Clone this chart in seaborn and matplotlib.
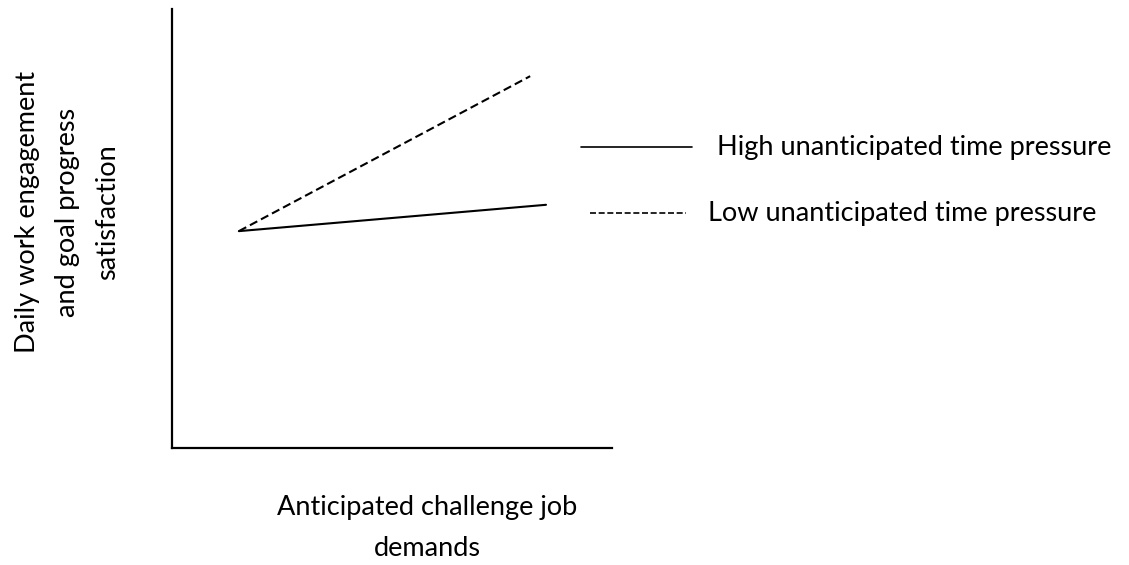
import pandas as pd
import numpy as np
import matplotlib.pyplot as plt
import seaborn as sns
from matplotlib.lines import Line2D

# simple slopes (axes run 0-10 on both sides)
demand_level = [1.52, 8.5]
demand_level_low = [1.52, 8.14]
high_pressure = [4.94, 5.54]
low_pressure = [4.94, 8.47]
group_names = ["High unanticipated time pressure", "Low unanticipated time pressure"]

df = pd.DataFrame({
    "demands": demand_level + demand_level_low,
    "engagement": high_pressure + low_pressure,
    "group": [group_names[0]] * 2 + [group_names[1]] * 2,
})

sns.set_style("white")
plt.rcParams["font.family"] = ["Lato", "DejaVu Sans"]
fs = 19.5

fig = plt.figure(figsize=(11.29, 5.65), dpi=100)
ax = fig.add_axes([172 / 1129, 117 / 565, 440 / 1129, 439 / 565])

sns.lineplot(data=df, x="demands", y="engagement", style="group",
             dashes={group_names[0]: "", group_names[1]: (4, 2)},
             color="black", linewidth=1.5, legend=False, ax=ax)

ax.set_xlim(0, 10)
ax.set_ylim(0, 10)
ax.set_xticks([])
ax.set_yticks([])
ax.set_xlabel("")
ax.set_ylabel("")
for side in ["top", "right"]:
    ax.spines[side].set_visible(False)
for side in ["left", "bottom"]:
    ax.spines[side].set_color("black")
    ax.spines[side].set_linewidth(1.6)

# axis titles
fig.text(68 / 1129, 1 - 212 / 565,
         "Daily work engagement\nand goal progress\nsatisfaction",
         rotation=90, ha="center", va="center", multialignment="center",
         fontsize=fs, linespacing=1.75, color="black")
fig.text(427 / 1129, 1 - 528 / 565, "Anticipated challenge job\ndemands",
         ha="center", va="center", multialignment="center",
         fontsize=fs, linespacing=1.75, color="black")

# hand-made key to the right
fig.add_artist(Line2D([581 / 1129, 692 / 1129], [1 - 147 / 565] * 2,
                      color="black", linewidth=1.2, transform=fig.transFigure))
fig.add_artist(Line2D([590 / 1129, 686 / 1129], [1 - 213 / 565] * 2,
                      color="black", linewidth=1.2, linestyle=(0, (3.6, 1.6)),
                      transform=fig.transFigure))
fig.text(717 / 1129, 1 - 147 / 565, group_names[0], ha="left", va="center",
         fontsize=fs, color="black")
fig.text(708 / 1129, 1 - 213 / 565, group_names[1], ha="left", va="center",
         fontsize=fs, color="black")

fig.savefig("out.png", dpi=100)
